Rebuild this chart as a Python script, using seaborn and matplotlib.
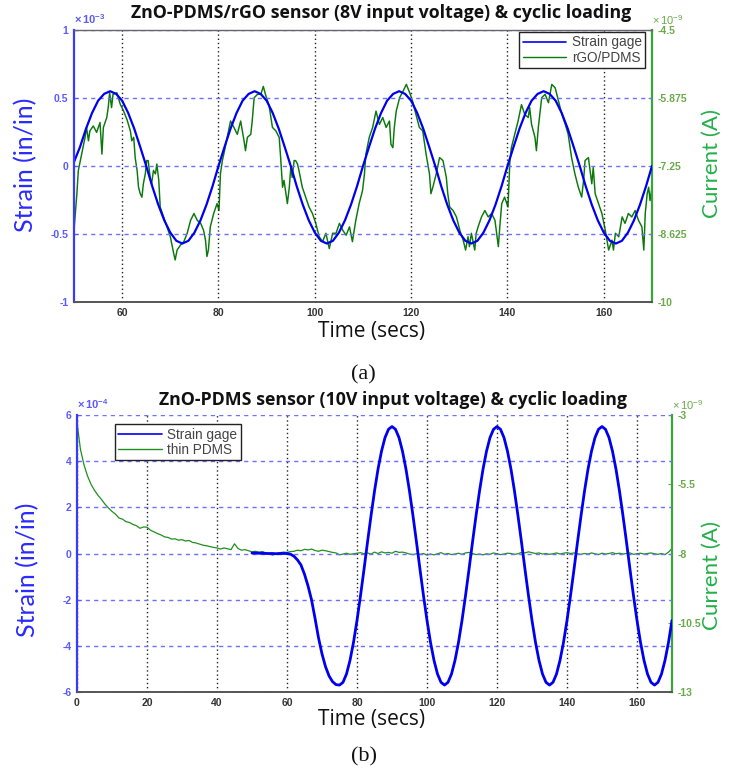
import numpy as np
import seaborn as sns
import matplotlib.pyplot as plt
from matplotlib.lines import Line2D

# ---------------- data: panel (a) ----------------
# strain gage (x 1e-3 in/in), sampled every 1.25 s from 50 to 170 s
strain_a = [
    0.03, 0.14, 0.275, 0.39, 0.48, 0.53, 0.55, 0.53, 0.48, 0.39, 0.275, 0.14,
    0.0, -0.15, -0.285, -0.40, -0.49, -0.55, -0.57, -0.55, -0.49, -0.40, -0.285, -0.15,
    0.0, 0.14, 0.275, 0.39, 0.48, 0.53, 0.55, 0.53, 0.48, 0.39, 0.275, 0.14,
    0.0, -0.15, -0.285, -0.40, -0.49, -0.55, -0.57, -0.55, -0.49, -0.40, -0.285, -0.15,
    0.0, 0.14, 0.275, 0.39, 0.48, 0.53, 0.55, 0.53, 0.48, 0.39, 0.275, 0.14,
    0.0, -0.15, -0.285, -0.40, -0.49, -0.55, -0.57, -0.55, -0.49, -0.40, -0.285, -0.15,
    0.0, 0.14, 0.275, 0.39, 0.48, 0.53, 0.55, 0.53, 0.48, 0.39, 0.275, 0.14,
    0.0, -0.15, -0.285, -0.40, -0.49, -0.55, -0.57, -0.55, -0.49, -0.40, -0.285, -0.15,
    0.0]
time_a_strain = np.linspace(50, 170, len(strain_a))

# rGO/PDMS current (x 1e-9 A)
time_a_cur = [
    50.0, 50.6, 50.9, 51.6, 52.3, 52.6, 53.0, 53.3, 54.0, 54.7,
    55.4, 55.8, 56.1, 56.8, 57.1, 57.4, 57.8, 58.1, 58.9, 59.6,
    60.3, 61.0, 61.7, 62.0, 62.4, 62.7, 63.1, 63.4, 63.75, 64.1,
    64.4, 64.8, 65.1, 65.4, 65.8, 66.1, 66.5, 66.9, 67.2, 67.6,
    67.9, 68.6, 69.3, 70.0, 70.7, 71.0, 71.4, 72.1, 72.8, 73.5,
    74.2, 74.9, 75.6, 76.3, 76.9, 77.3, 77.6, 77.9, 78.3, 79.0,
    79.7, 80.1, 80.4, 80.8, 81.1, 81.8, 82.5, 83.2, 83.9, 84.6,
    85.3, 85.6, 86.0, 86.7, 87.0, 87.4, 88.1, 88.8, 89.3, 89.8,
    90.5, 91.2, 91.9, 92.6, 92.9, 93.3, 93.6, 94.0, 94.3, 94.7,
    95.0, 95.3, 95.7, 96.0, 96.4, 96.7, 97.1, 97.4, 98.1, 98.8,
    99.5, 100.2, 100.9, 101.6, 102.3, 103.0, 103.7, 104.4, 105.1, 105.8,
    106.5, 107.2, 107.8, 108.5, 109.2, 109.9, 110.3, 110.6, 111.3, 112.0,
    112.7, 113.4, 114.1, 114.8, 115.5, 115.8, 116.2, 116.5, 116.9, 117.6,
    118.3, 119.0, 119.7, 120.3, 121.0, 121.7, 122.4, 123.1, 123.8, 124.1,
    124.5, 125.2, 125.9, 126.6, 127.3, 127.6, 128.0, 128.7, 129.4, 130.1,
    130.8, 131.3, 131.8, 132.1, 132.5, 133.2, 133.5, 133.9, 134.6, 135.3,
    136.0, 136.7, 137.4, 138.1, 138.4, 138.8, 139.4, 140.1, 140.5, 140.8,
    141.5, 142.2, 142.9, 143.6, 144.3, 144.6, 145.0, 145.7, 146.0, 146.4,
    146.7, 147.1, 147.8, 148.5, 149.2, 149.9, 150.6, 151.3, 152.0, 152.6,
    153.3, 154.0, 154.7, 155.4, 155.8, 156.1, 156.8, 157.5, 157.8, 158.2,
    158.9, 159.6, 160.3, 161.0, 161.7, 162.0, 162.4, 163.1, 163.8, 164.4,
    165.1, 165.8, 166.5, 167.2, 167.9, 168.3, 168.6, 169.0, 169.3, 169.6,
    170.0]
current_a = [
    -8.55, -7.81, -7.34, -7.01, -6.67, -6.47, -6.74, -6.54, -6.44, -6.57,
    -6.37, -7.01, -6.47, -6.27, -6.07, -5.77, -6.07, -5.80, -5.77, -6.00,
    -6.14, -6.31, -6.54, -6.74, -6.67, -7.08, -7.34, -7.68, -7.81, -7.88,
    -7.61, -7.41, -7.14, -7.14, -7.48, -7.61, -7.34, -7.41, -7.21, -7.54,
    -8.08, -8.28, -8.48, -8.68, -9.02, -9.15, -8.95, -8.85, -8.78, -8.61,
    -8.35, -8.21, -8.35, -8.41, -8.55, -8.75, -9.08, -8.95, -8.48, -8.21,
    -8.01, -8.15, -7.41, -7.14, -7.01, -6.67, -6.34, -6.47, -6.61, -6.34,
    -6.74, -6.94, -6.67, -6.61, -6.34, -5.87, -5.80, -5.80, -5.64, -5.82,
    -6.03, -6.47, -6.54, -6.67, -7.08, -7.68, -7.54, -7.81, -8.01, -7.68,
    -7.28, -7.48, -7.14, -7.14, -7.21, -7.34, -7.54, -7.68, -7.88, -8.08,
    -8.21, -8.41, -8.68, -8.78, -8.61, -8.92, -8.61, -8.61, -8.41, -8.55,
    -8.65, -8.48, -8.78, -8.35, -8.01, -7.75, -7.41, -7.01, -6.67, -6.47,
    -6.14, -6.41, -6.27, -6.47, -6.34, -6.81, -6.88, -6.47, -6.14, -5.87,
    -5.74, -5.60, -5.77, -5.94, -6.21, -6.47, -6.54, -7.01, -7.41, -7.81,
    -7.68, -7.41, -7.08, -7.14, -7.48, -7.81, -8.08, -8.15, -8.28, -8.55,
    -8.75, -8.95, -8.68, -8.88, -8.61, -8.95, -8.61, -8.48, -8.28, -8.15,
    -8.28, -8.21, -8.35, -8.88, -8.48, -8.01, -7.88, -8.08, -7.14, -6.88,
    -6.61, -6.34, -6.01, -6.21, -6.27, -6.07, -6.41, -6.67, -6.94, -6.47,
    -6.21, -5.87, -5.80, -5.97, -5.60, -5.67, -5.94, -6.21, -6.41, -6.61,
    -7.08, -7.41, -7.68, -7.88, -7.54, -7.14, -7.08, -7.61, -7.28, -7.81,
    -8.01, -8.21, -8.55, -8.95, -8.75, -8.95, -8.61, -8.68, -8.28, -8.41,
    -8.21, -8.28, -8.15, -8.35, -8.48, -8.95, -8.21, -7.81, -7.68, -7.95,
    -7.68]

# ---------------- data: panel (b) ----------------
# strain gage (x 1e-4 in/in), every 1 s from 50 to 170 s
strain_b = [
    0.02, 0.02, 0.01, 0.01, 0.0, 0.0, 0.0, -0.01, 0.0, 0.0,
    0.0, -0.03, -0.12, -0.28, -0.5, -0.9, -1.4, -2.0, -2.8, -3.65,
    -4.35, -4.9, -5.3, -5.55, -5.68, -5.70, -5.58, -5.22, -4.63, -3.85,
    -2.90, -1.83, -0.69, 0.49, 1.63, 2.70, 3.65, 4.43, 5.02, 5.38,
    5.50, 5.38, 5.02, 4.43, 3.65, 2.70, 1.63, 0.49, -0.69, -1.83,
    -2.90, -3.85, -4.63, -5.22, -5.58, -5.70, -5.58, -5.22, -4.63, -3.85,
    -2.90, -1.83, -0.69, 0.49, 1.63, 2.70, 3.65, 4.43, 5.02, 5.38,
    5.50, 5.38, 5.02, 4.43, 3.65, 2.70, 1.63, 0.49, -0.69, -1.83,
    -2.90, -3.85, -4.63, -5.22, -5.58, -5.70, -5.58, -5.22, -4.63, -3.85,
    -2.90, -1.83, -0.69, 0.49, 1.63, 2.70, 3.65, 4.43, 5.02, 5.38,
    5.50, 5.38, 5.02, 4.43, 3.65, 2.70, 1.63, 0.49, -0.69, -1.83,
    -2.90, -3.85, -4.63, -5.22, -5.58, -5.70, -5.58, -5.22, -4.63, -3.85,
    -2.90]
time_b_strain = np.arange(50, 50 + len(strain_b))

# thin PDMS current (x 1e-9 A), every 1 s from 0 to 170 s
current_b = [
    -3.27, -4.25, -4.80, -5.20, -5.50, -5.72, -5.90, -6.05, -6.22, -6.36,
    -6.48, -6.58, -6.72, -6.76, -6.85, -6.88, -6.95, -7.00, -7.09, -7.04,
    -7.05, -7.16, -7.22, -7.28, -7.33, -7.40, -7.42, -7.48, -7.47, -7.52,
    -7.50, -7.55, -7.53, -7.60, -7.62, -7.66, -7.70, -7.72, -7.75, -7.78,
    -7.80, -7.84, -7.80, -7.83, -7.86, -7.65, -7.82, -7.88, -7.86, -7.90,
    -7.94, -7.92, -7.95, -7.93, -7.98, -8.02, -8.06, -8.00, -7.97, -7.95,
    -7.96, -7.93, -7.92, -7.88, -7.90, -7.85, -7.87, -7.84, -7.89, -7.92,
    -7.88, -7.90, -7.93, -7.96, -7.98, -8.05, -8.02, -7.99, -8.03, -8.01,
    -7.99, -7.97, -8.01, -7.98, -8.02, -7.95, -8.00, -7.94, -7.98, -7.96,
    -7.99, -7.92, -7.96, -7.95, -7.98, -8.02, -8.04, -8.01, -8.03, -8.00,
    -8.06, -8.02, -8.05, -8.01, -7.97, -8.03, -8.00, -8.04, -8.02, -7.99,
    -8.03, -7.98, -7.96, -8.00, -8.04, -8.02, -8.05, -8.01, -8.03, -7.98,
    -8.01, -8.04, -8.02, -7.99, -8.00, -8.03, -8.01, -7.96, -7.98, -7.94,
    -7.97, -8.00, -7.98, -8.02, -8.00, -8.03, -8.01, -7.98, -8.02, -7.99,
    -7.97, -8.00, -7.98, -8.01, -8.03, -8.00, -8.02, -7.98, -8.01, -8.04,
    -7.99, -8.02, -8.00, -7.97, -8.01, -7.99, -8.02, -8.00, -7.98, -8.03,
    -8.01, -7.99, -8.02, -8.00, -7.98, -8.01, -8.03, -8.00, -8.04, -7.95,
    -7.82]
time_b_cur = np.arange(0, len(current_b))

# axis ticks
xticks_a = [60, 80, 100, 120, 140, 160]
yticks_a = [-1, -0.5, 0, 0.5, 1]
yticklabels_a = ["-1", "-0.5", "0", "0.5", "1"]
y2ticks_a = [-10, -8.625, -7.25, -5.875, -4.5]
y2ticklabels_a = ["-10", "-8.625", "-7.25", "-5.875", "-4.5"]
xticks_b = [0, 20, 40, 60, 80, 100, 120, 140, 160]
yticks_b = [-6, -4, -2, 0, 2, 4, 6]
y2ticks_b = [-13, -10.5, -8, -5.5, -3]
y2ticklabels_b = ["-13", "-10.5", "-8", "-5.5", "-3"]

# ---------------- style ----------------
sns.set_style("white")
plt.rcParams["font.family"] = ["Liberation Sans", "DejaVu Sans"]
plt.rcParams["axes.unicode_minus"] = False
plt.rcParams["mathtext.default"] = "regular"

BLUE = "#0000f0"
GREEN_A = "#0a780a"
GREEN_B = "#1f8f1f"
TICK_BLUE = "#5a5aff"
TICK_GREEN = "#6aaa4a"
LABEL_BLUE = "#2a2aff"
LABEL_GREEN = "#22b04a"
GRID_BLUE = "#6f6fff"

W, H = 729, 773
fig = plt.figure(figsize=(W / 100, H / 100), dpi=100)


def style_panel(ax, ax2, xlim, ylim, y2lim, xticks, yticks, ylabels, y2ticks, y2labels, hide_top):
    ax.set_xlim(*xlim)
    ax.set_ylim(*ylim)
    ax2.set_ylim(*y2lim)
    ax.set_xticks(xticks)
    ax.set_yticks(yticks)
    ax.set_yticklabels(ylabels)
    ax2.set_yticks(y2ticks)
    ax2.set_yticklabels(y2labels)
    ax.set_xlabel("")
    ax.set_ylabel("")
    ax2.set_ylabel("")
    ax.xaxis.grid(True, color="#222222", linestyle=(0, (1, 2)), linewidth=1.0)
    ax.yaxis.grid(True, color=GRID_BLUE, linestyle=(0, (3, 3)), linewidth=1.0)
    ax.set_axisbelow(True)
    ax.tick_params(axis="x", direction="in", length=3, labelsize=7.5, colors="#333333",
                   labelcolor="#333333", pad=4)
    ax.tick_params(axis="y", direction="in", length=3, labelsize=7.5, colors=TICK_BLUE, pad=4)
    ax2.tick_params(axis="y", direction="in", length=3, labelsize=7.5, colors=TICK_GREEN, pad=4)
    for lab in ax.get_xticklabels() + ax.get_yticklabels() + ax2.get_yticklabels():
        lab.set_fontweight("bold")
    for a in (ax, ax2):
        for s in a.spines.values():
            s.set_visible(False)
    ax.spines["left"].set_visible(True)
    ax.spines["left"].set_color("#3a3aff")
    ax.spines["left"].set_linewidth(1.6)
    ax.spines["bottom"].set_visible(True)
    ax.spines["bottom"].set_color("#555555")
    ax.spines["bottom"].set_linewidth(1.4)
    if not hide_top:
        ax.spines["top"].set_visible(True)
        ax.spines["top"].set_color("#666666")
        ax.spines["top"].set_linewidth(1.0)
    ax2.spines["right"].set_visible(True)
    ax2.spines["right"].set_color("#3aa53a")
    ax2.spines["right"].set_linewidth(1.6)
    # left axis drawn on top of the twin
    ax.set_zorder(ax2.get_zorder() + 1)
    ax.patch.set_visible(False)


def px_rect(left, top, right, bottom):
    return [left / W, 1 - bottom / H, (right - left) / W, (bottom - top) / H]


leg_kw = dict(borderaxespad=0, fancybox=False, framealpha=1, edgecolor="#222222",
              fontsize=9.8, handlelength=3.2, labelspacing=0.1, borderpad=0.25,
              handletextpad=0.4)

# ---------------- panel (a) ----------------
ax_a = fig.add_axes(px_rect(74, 30, 652, 302))
ax_a2 = ax_a.twinx()
sns.lineplot(x=time_a_cur, y=current_a, ax=ax_a2, color=GREEN_A, linewidth=1.05,
             estimator=None, sort=False)
sns.lineplot(x=time_a_strain, y=strain_a, ax=ax_a, color=BLUE, linewidth=1.6,
             estimator=None, sort=False)
style_panel(ax_a, ax_a2, (50, 170), (-1, 1), (-10, -4.5), xticks_a, yticks_a, yticklabels_a,
            y2ticks_a, y2ticklabels_a, hide_top=False)
handles_a = [Line2D([], [], color=BLUE, lw=1.2), Line2D([], [], color=GREEN_A, lw=1.0)]
leg = ax_a.legend(handles_a, ["Strain gage", "rGO/PDMS"], loc="upper right",
                  bbox_to_anchor=(0.988, 0.993), **leg_kw)
leg.get_frame().set_linewidth(1.0)
for t in leg.get_texts():
    t.set_color("#444444")
ax_a.text(0.0, 1.015, r"$\times\,10^{-3}$", transform=ax_a.transAxes, color=TICK_BLUE,
          fontsize=8, fontweight="bold", ha="left", va="bottom")
ax_a2.text(1.0, 1.01, r"$\times\,10^{-9}$", transform=ax_a2.transAxes, color=TICK_GREEN,
           fontsize=8, ha="left", va="bottom")

# ---------------- panel (b) ----------------
ax_b = fig.add_axes(px_rect(77, 415, 672, 692))
ax_b2 = ax_b.twinx()
sns.lineplot(x=time_b_cur, y=current_b, ax=ax_b2, color=GREEN_B, linewidth=0.9,
             estimator=None, sort=False)
sns.lineplot(x=time_b_strain, y=strain_b, ax=ax_b, color=BLUE, linewidth=2.0,
             estimator=None, sort=False)
style_panel(ax_b, ax_b2, (0, 170), (-6, 6), (-13, -3), xticks_b, yticks_b,
            [str(v) for v in yticks_b], y2ticks_b, y2ticklabels_b, hide_top=True)
handles_b = [Line2D([], [], color=BLUE, lw=1.2), Line2D([], [], color=GREEN_B, lw=1.0)]
leg = ax_b.legend(handles_b, ["Strain gage", "thin PDMS"], loc="upper left",
                  bbox_to_anchor=(0.064, 0.967), **leg_kw)
leg.get_frame().set_linewidth(1.0)
for t in leg.get_texts():
    t.set_color("#444444")
ax_b.text(0.0, 1.015, r"$\times\,10^{-4}$", transform=ax_b.transAxes, color=TICK_BLUE,
          fontsize=8, fontweight="bold", ha="left", va="bottom")
ax_b2.text(1.0, 1.01, r"$\times\,10^{-9}$", transform=ax_b2.transAxes, color=TICK_GREEN,
           fontsize=8, ha="left", va="bottom")

# ---------------- titles and labels ----------------
title_font = dict(family=["Open Sans", "DejaVu Sans"], fontweight="bold", fontsize=12.8,
                  color="#111111", ha="center", va="center")
fig.text(381 / W, 1 - 13 / H, "ZnO-PDMS/rGO sensor (8V input voltage) & cyclic loading", **title_font)
fig.text(393 / W, 1 - 400 / H, "ZnO-PDMS sensor (10V input voltage) & cyclic loading", **title_font)

time_font = dict(family=["Open Sans", "DejaVu Sans"], fontsize=15, color="#111111",
                 ha="center", va="center")
fig.text(372 / W, 1 - 332 / H, "Time (secs)", **time_font)
fig.text(372 / W, 1 - 720 / H, "Time (secs)", **time_font)

lab_font = dict(family=["Lato", "DejaVu Sans"], ha="center", va="center", rotation=90)
fig.text(26 / W, 1 - 165 / H, "Strain (in/in)", color=LABEL_BLUE, fontsize=18, **lab_font)
fig.text(712 / W, 1 - 163 / H, "Current (A)", color=LABEL_GREEN, fontsize=16, **lab_font)
fig.text(28 / W, 1 - 570 / H, "Strain (in/in)", color=LABEL_BLUE, fontsize=18, **lab_font)
fig.text(712 / W, 1 - 575 / H, "Current (A)", color=LABEL_GREEN, fontsize=16, **lab_font)

cap_font = dict(family=["Liberation Serif", "DejaVu Serif"], fontsize=16, color="#111111",
                ha="center", va="center")
fig.text(363 / W, 1 - 375 / H, "(a)", **cap_font)
fig.text(364 / W, 1 - 757 / H, "(b)", **cap_font)

fig.savefig("out.png", dpi=100)
